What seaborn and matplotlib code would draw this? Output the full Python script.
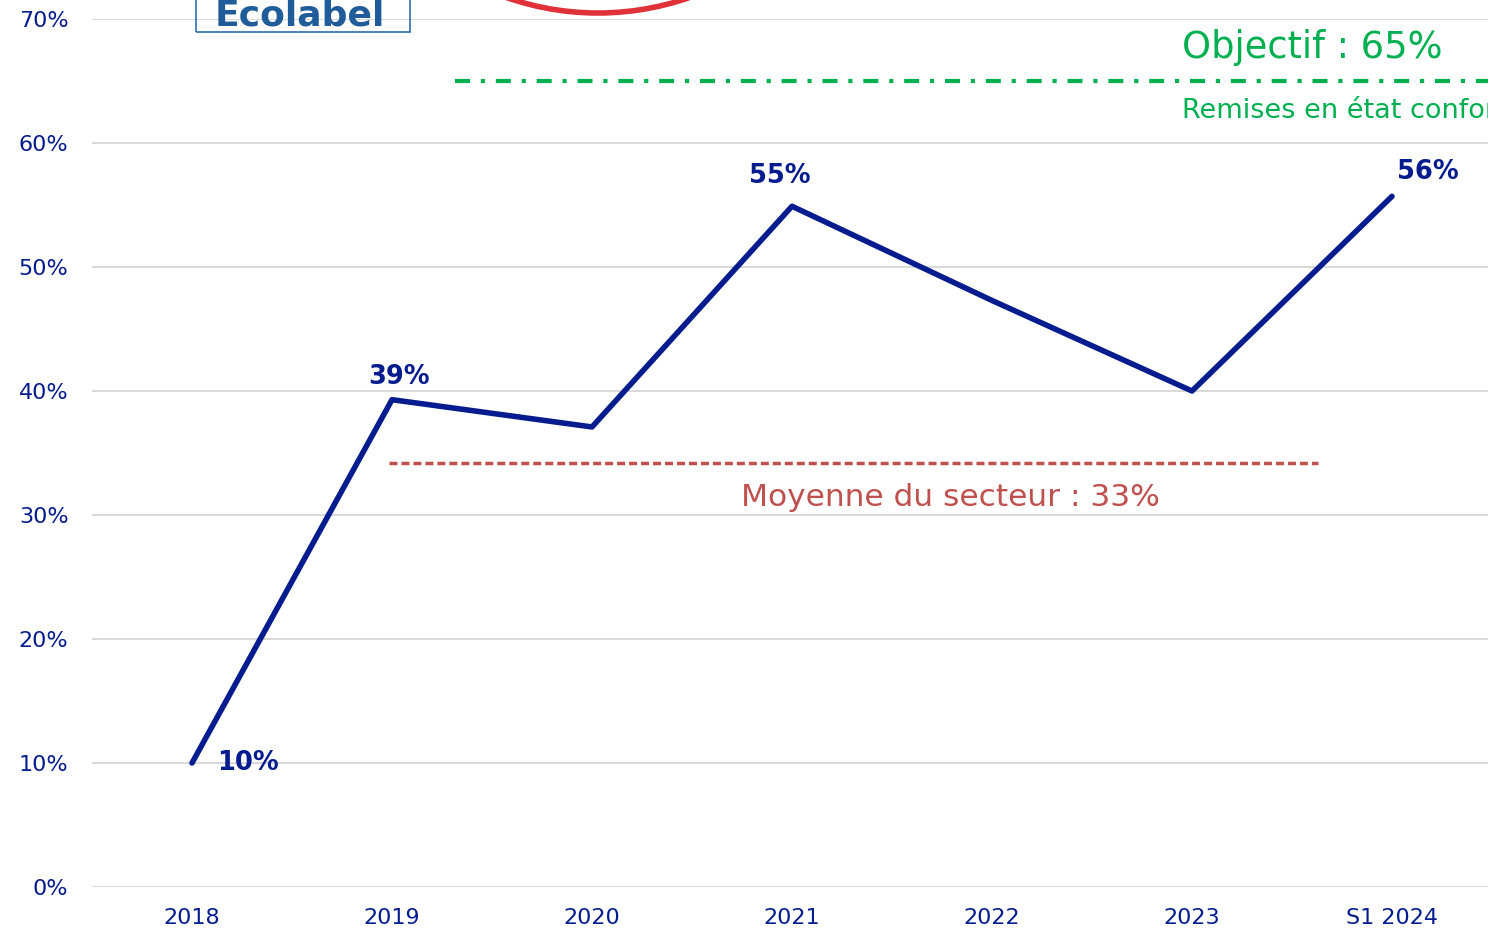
import matplotlib
matplotlib.use("Agg")
import matplotlib.pyplot as plt
import matplotlib.patches as mpatches
import seaborn as sns
import pandas as pd

# data
periods = ["2018", "2019", "2020", "2021", "2022", "2023", "S1 2024"]
rates = [10, 39.3, 37.1, 54.9, 47.3, 40, 55.7]
label_texts = {0: "10%", 1: "39%", 3: "55%", 6: "56%"}
sector_avg = 34.2
objective = 65
y_ticks = [0, 10, 20, 30, 40, 50, 60, 70]

navy = "#051C8F"
green = "#00B050"
red = "#C0504D"

sns.set_theme(style="white")
plt.rcParams["font.family"] = ["DejaVu Sans"]

df = pd.DataFrame({"period": periods, "rate": rates, "x": range(len(periods))})

fig = plt.figure(figsize=(14.88, 9.32), dpi=100)
ax = fig.add_axes([92 / 1488, 45 / 932, 1400 / 1488, 868 / 932])

for t in y_ticks:
    ax.axhline(t, color="#D9D9D9", lw=1.5, zorder=0)

sns.lineplot(data=df, x="x", y="rate", color=navy, lw=4, ax=ax, zorder=3)

# sector average & objective
ax.plot([0.985, 5.63], [sector_avg, sector_avg], color=red, lw=2.5,
        ls=(0, (2.3, 1.15)), zorder=2)
ax.plot([1.315, 6.6], [objective, objective], color=green, lw=3,
        ls=(0, (3.6, 2.6, 1, 2.6)), zorder=2)

ax.text(3.79, 31.4, "Moyenne du secteur : 33%", color=red, fontsize=22.5,
        ha="center", va="center")
ax.text(4.95, 67.7, "Objectif : 65%", color=green, fontsize=26.5,
        ha="left", va="center")
ax.text(4.95, 62.6, "Remises en état conformes", color=green, fontsize=19.5,
        ha="left", va="center")

# data labels
offsets = {0: (0.28, 0), 1: (0.035, 1.85), 3: (-0.06, 2.4), 6: (0.18, 2.0)}
for i, txt in label_texts.items():
    dx, dy = offsets[i]
    ax.text(i + dx, rates[i] + dy, txt, color=navy, fontsize=18.5,
            fontweight="bold", ha="center", va="center")

ax.set_xlim(-0.5, 6.5)
ax.set_ylim(0, 70)
ax.set_xticks(range(len(periods)))
ax.set_xticklabels(periods)
ax.set_yticks(y_ticks)
ax.set_yticklabels([f"{t}%" for t in y_ticks])
ax.tick_params(axis="both", colors=navy, labelsize=16, length=0)
ax.tick_params(axis="y", pad=17)
ax.tick_params(axis="x", pad=15)
ax.set_xlabel("")
ax.set_ylabel("")
for s in ax.spines.values():
    s.set_visible(False)

# partial logos at the top edge
fig.patches.append(mpatches.Rectangle((196 / 1488, 900 / 932), 214 / 1488, 40 / 932,
                                      transform=fig.transFigure, fill=False,
                                      edgecolor="#2E6DB4", lw=1.2))
fig.text(300 / 1488, 907 / 932, "Ecolabel", color="#1F5C99", fontsize=26,
         fontweight="bold", ha="center", va="baseline")
fig.patches.append(mpatches.Ellipse((598 / 1488, 1197 / 932), 556 / 1488, 556 / 932,
                                    transform=fig.transFigure, fill=False,
                                    edgecolor="#E03038", lw=4))

fig.savefig("out.png", dpi=100)
